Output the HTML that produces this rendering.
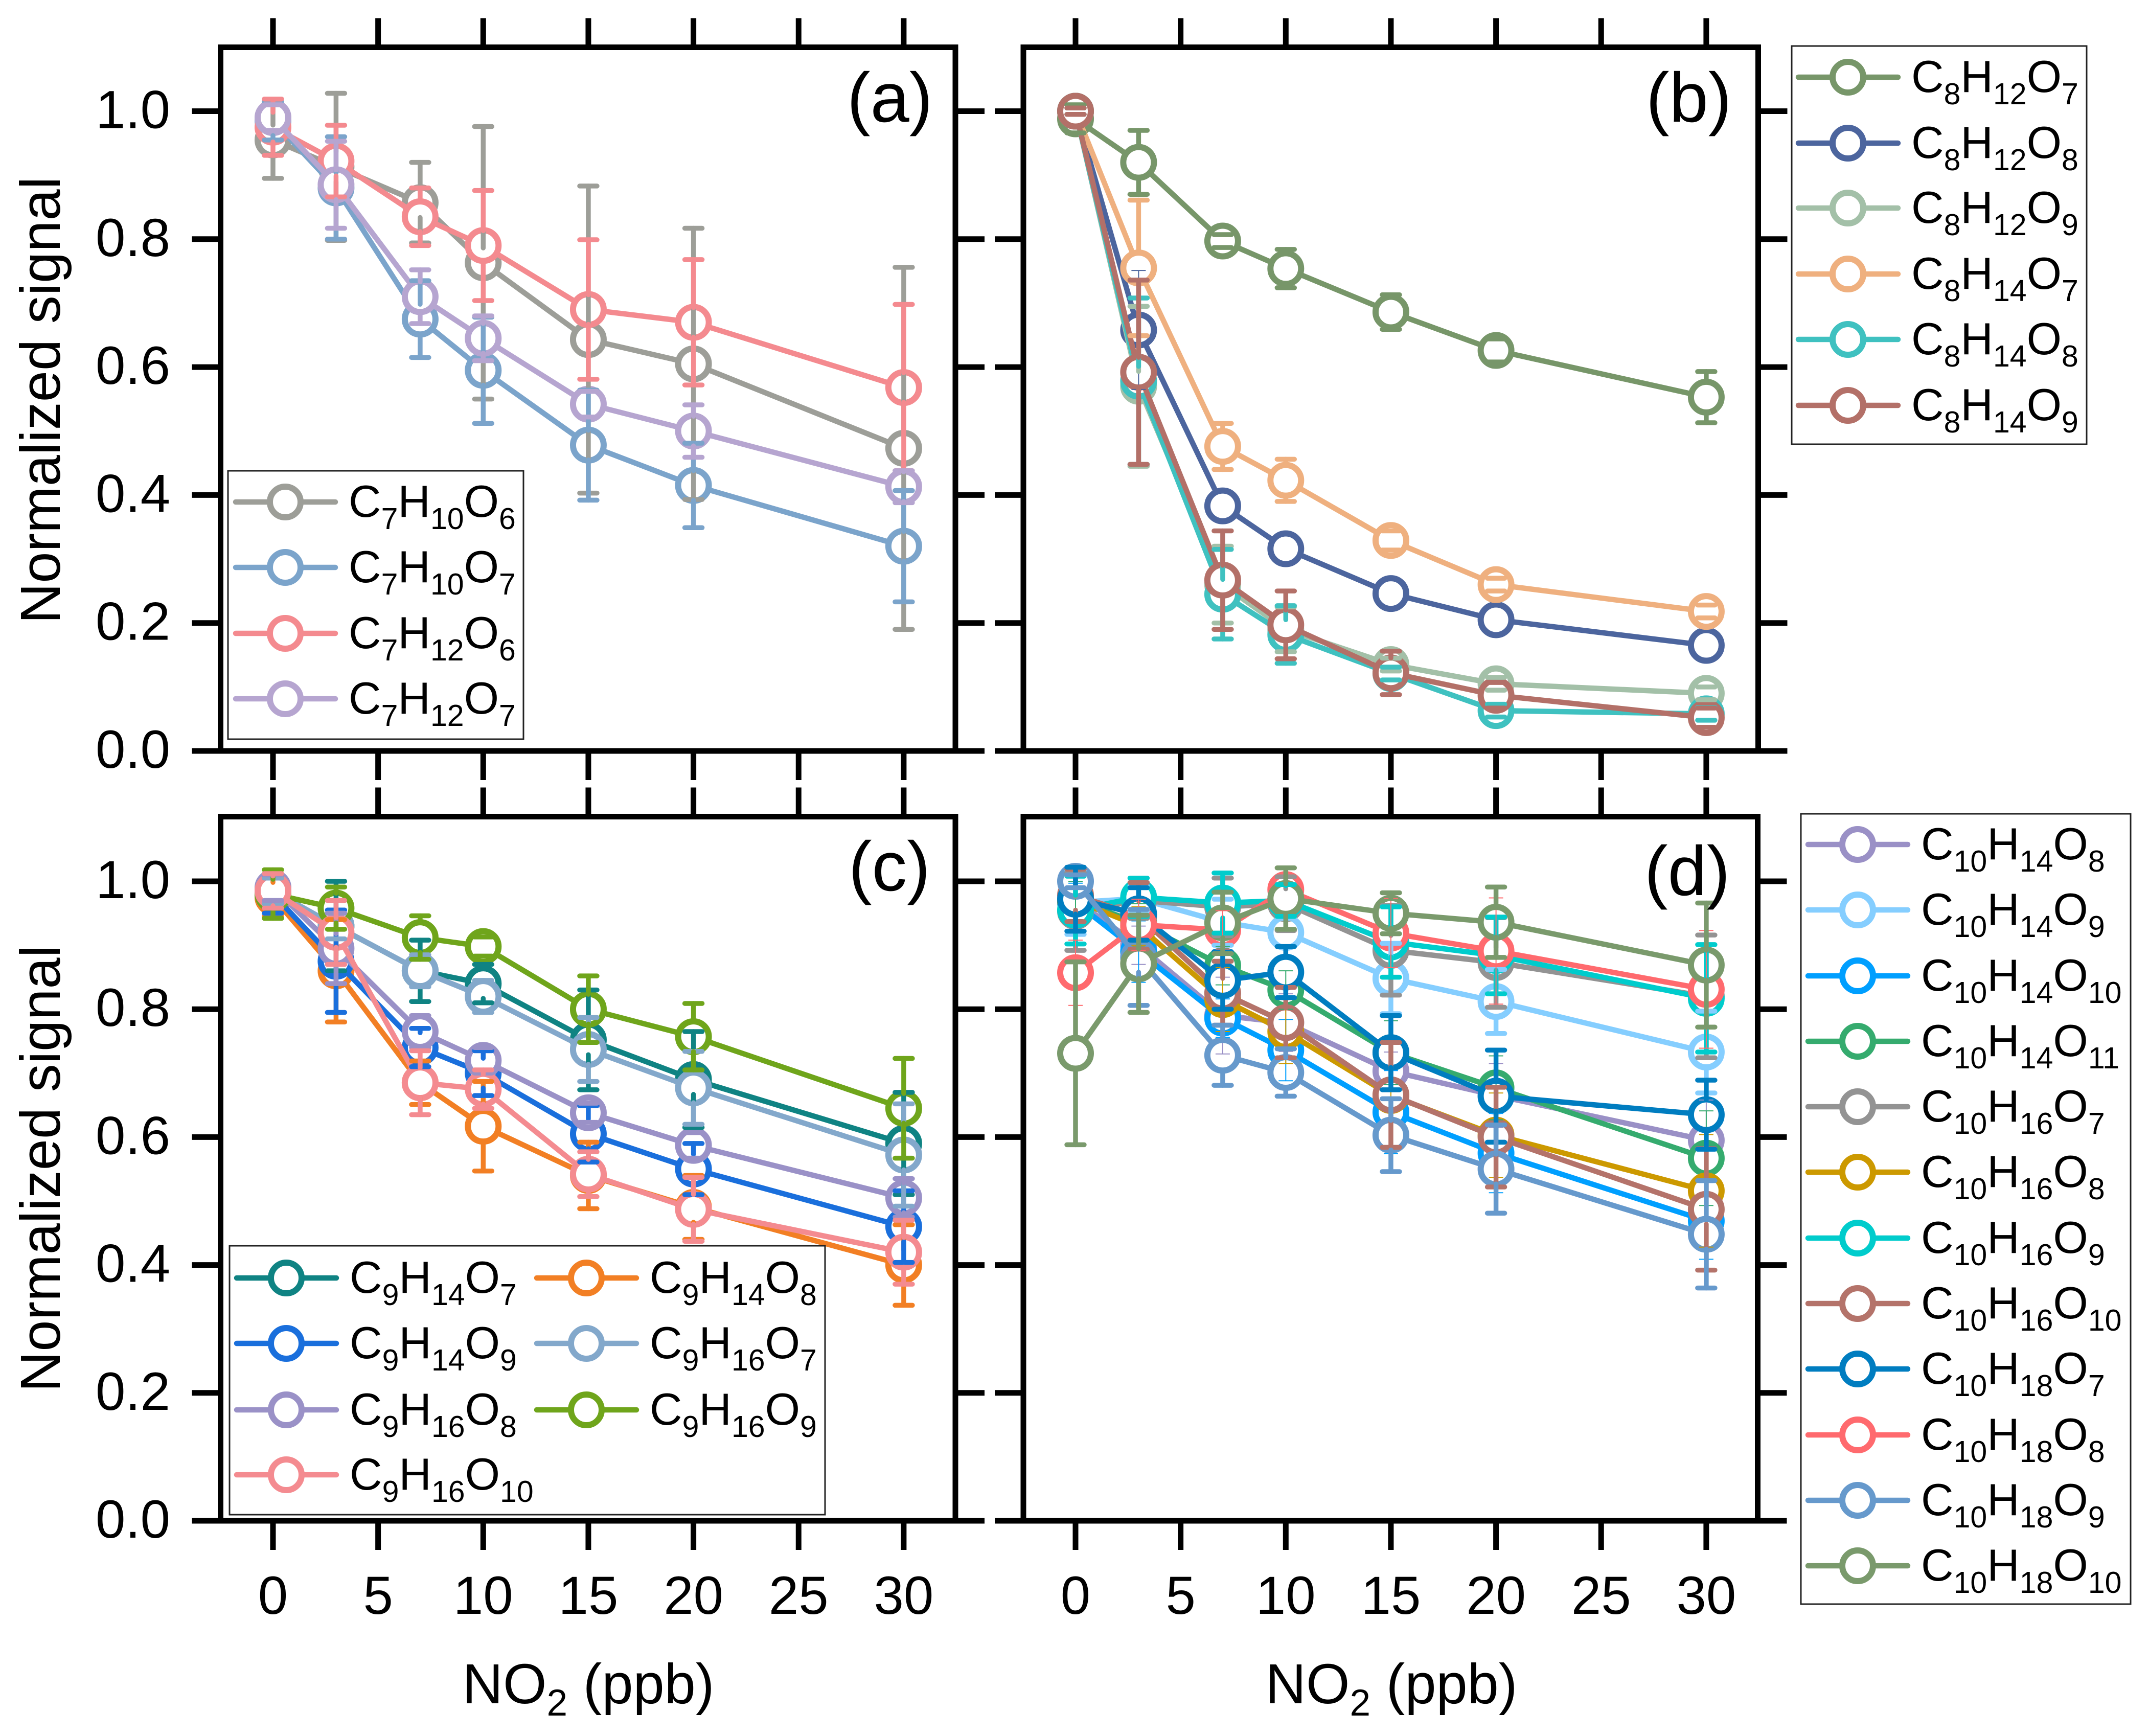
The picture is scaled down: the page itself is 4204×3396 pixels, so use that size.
<!DOCTYPE html>
<html lang="en">
<head>
<meta charset="utf-8">
<title>Normalized signal versus NO2</title>
<style>
html,body{margin:0;padding:0;background:#fff;width:4204px;height:3396px;overflow:hidden}
svg{display:block;font-family:"Liberation Sans",sans-serif}
</style>
</head>
<body>
<svg id="chart" xmlns="http://www.w3.org/2000/svg" width="4204" height="3396" viewBox="0 0 4204 3396"></svg>
<script>
// ---------- shared axis data ----------
const xCategories = [0, 3, 7, 10, 15, 20, 30];
const xTickLabels = [0, 5, 10, 15, 20, 25, 30];
const yTickLabels = ["0.0", "0.2", "0.4", "0.6", "0.8", "1.0"];

// ---------- panel (a) ----------
const aNames = ["C7H10O6", "C7H10O7", "C7H12O6", "C7H12O7"];
const aC7H10O6 = [0.955, 0.913, 0.857, 0.763, 0.643, 0.605, 0.473];
const aC7H10O6Err = [0.06, 0.115, 0.063, 0.213, 0.24, 0.212, 0.283];
const aC7H10O7 = [0.985, 0.88, 0.675, 0.595, 0.478, 0.415, 0.32];
const aC7H10O7Err = [0.03, 0.08, 0.06, 0.083, 0.086, 0.066, 0.087];
const aC7H12O6 = [0.975, 0.922, 0.835, 0.79, 0.69, 0.67, 0.568];
const aC7H12O6Err = [0.044, 0.056, 0.045, 0.086, 0.109, 0.098, 0.13];
const aC7H12O7 = [0.99, 0.885, 0.71, 0.645, 0.542, 0.5, 0.413];
const aC7H12O7Err = [0.02, 0.068, 0.042, 0.035, 0.02, 0.041, 0.025];

// ---------- panel (b) ----------
const bNames = ["C8H12O7", "C8H12O8", "C8H12O9", "C8H14O7", "C8H14O8", "C8H14O9"];
const bC8H12O7 = [0.988, 0.92, 0.797, 0.754, 0.686, 0.626, 0.553];
const bC8H12O7Err = [0.022, 0.05, 0.01, 0.03, 0.027, 0.018, 0.04];
const bC8H12O8 = [1.0, 0.658, 0.383, 0.316, 0.246, 0.205, 0.165];
const bC8H12O8Err = [0.005, 0.093, 0.01, 0.01, 0.01, 0.02, 0.01];
const bC8H12O9 = [1.0, 0.57, 0.26, 0.19, 0.135, 0.105, 0.09];
const bC8H12O9Err = [0.005, 0.125, 0.06, 0.035, 0.01, 0.01, 0.01];
const bC8H14O7 = [1.0, 0.755, 0.476, 0.423, 0.329, 0.26, 0.218];
const bC8H14O7Err = [0.005, 0.106, 0.036, 0.033, 0.015, 0.01, 0.01];
const bC8H14O8 = [1.0, 0.578, 0.245, 0.182, 0.121, 0.063, 0.058];
const bC8H14O8Err = [0.005, 0.13, 0.07, 0.045, 0.01, 0.01, 0.01];
const bC8H14O9 = [1.0, 0.592, 0.267, 0.197, 0.122, 0.087, 0.052];
const bC8H14O9Err = [0.005, 0.144, 0.077, 0.053, 0.034, 0.02, 0.015];

// ---------- panel (c) ----------
const cNames = ["C9H14O7", "C9H14O8", "C9H14O9", "C9H16O7", "C9H16O8", "C9H16O9", "C9H16O10"];
const cC9H14O7 = [0.98, 0.93, 0.86, 0.84, 0.752, 0.69, 0.59];
const cC9H14O7Err = [0.03, 0.07, 0.048, 0.03, 0.078, 0.075, 0.08];
const cC9H14O8 = [0.975, 0.86, 0.685, 0.617, 0.54, 0.49, 0.4];
const cC9H14O8Err = [0.03, 0.08, 0.034, 0.07, 0.052, 0.05, 0.063];
const cC9H14O9 = [0.98, 0.875, 0.74, 0.7, 0.605, 0.55, 0.46];
const cC9H14O9Err = [0.03, 0.08, 0.03, 0.035, 0.044, 0.04, 0.056];
const cC9H16O7 = [0.985, 0.93, 0.86, 0.82, 0.737, 0.677, 0.572];
const cC9H16O7Err = [0.02, 0.02, 0.025, 0.025, 0.05, 0.057, 0.08];
const cC9H16O8 = [0.99, 0.895, 0.765, 0.72, 0.638, 0.587, 0.505];
const cC9H16O8Err = [0.02, 0.055, 0.025, 0.02, 0.015, 0.02, 0.03];
const cC9H16O9 = [0.98, 0.958, 0.912, 0.898, 0.8, 0.757, 0.645];
const cC9H16O9Err = [0.038, 0.033, 0.034, 0.015, 0.052, 0.052, 0.078];
const cC9H16O10 = [0.985, 0.92, 0.685, 0.675, 0.542, 0.487, 0.42];
const cC9H16O10Err = [0.027, 0.05, 0.05, 0.03, 0.035, 0.05, 0.05];

// ---------- panel (d) ----------
const dNames = ["C10H14O8", "C10H14O9", "C10H14O10", "C10H14O11", "C10H16O7", "C10H16O8", "C10H16O9", "C10H16O10", "C10H18O7", "C10H18O8", "C10H18O9", "C10H18O10"];
const dC10H14O8 = [0.97, 0.9, 0.79, 0.779, 0.703, 0.665, 0.595];
const dC10H14O8Err = [0.03, 0.03, 0.06, 0.045, 0.03, 0.05, 0.063];
const dC10H14O9 = [0.967, 0.973, 0.936, 0.92, 0.848, 0.812, 0.733];
const dC10H14O9Err = [0.05, 0.02, 0.036, 0.022, 0.055, 0.05, 0.064];
const dC10H14O10 = [0.967, 0.89, 0.786, 0.736, 0.639, 0.575, 0.469];
const dC10H14O10Err = [0.03, 0.048, 0.03, 0.048, 0.065, 0.062, 0.06];
const dC10H14O11 = [0.97, 0.935, 0.868, 0.83, 0.732, 0.677, 0.567];
const dC10H14O11Err = [0.03, 0.03, 0.03, 0.03, 0.05, 0.05, 0.074];
const dC10H16O7 = [0.953, 0.97, 0.96, 0.965, 0.892, 0.873, 0.82];
const dC10H16O7Err = [0.061, 0.028, 0.045, 0.042, 0.07, 0.07, 0.096];
const dC10H16O8 = [0.97, 0.93, 0.815, 0.765, 0.665, 0.603, 0.516];
const dC10H16O8Err = [0.02, 0.03, 0.05, 0.05, 0.08, 0.066, 0.088];
const dC10H16O9 = [0.955, 0.975, 0.966, 0.97, 0.905, 0.884, 0.817];
const dC10H16O9Err = [0.053, 0.03, 0.047, 0.025, 0.055, 0.06, 0.084];
const dC10H16O10 = [0.978, 0.946, 0.825, 0.779, 0.666, 0.6, 0.487];
const dC10H16O10Err = [0.041, 0.052, 0.05, 0.055, 0.082, 0.078, 0.095];
const dC10H18O7 = [0.972, 0.949, 0.845, 0.858, 0.732, 0.664, 0.635];
const dC10H18O7Err = [0.05, 0.041, 0.045, 0.04, 0.058, 0.072, 0.054];
const dC10H18O8 = [0.857, 0.932, 0.924, 0.987, 0.919, 0.891, 0.831];
const dC10H18O8Err = [0.051, 0.04, 0.03, 0.02, 0.054, 0.083, 0.092];
const dC10H18O9 = [1.0, 0.881, 0.728, 0.701, 0.603, 0.55, 0.448];
const dC10H18O9Err = [0.01, 0.075, 0.047, 0.037, 0.057, 0.069, 0.084];
const dC10H18O10 = [0.731, 0.871, 0.935, 0.973, 0.95, 0.936, 0.869];
const dC10H18O10Err = [0.143, 0.076, 0.048, 0.048, 0.032, 0.055, 0.097];

// ---------- panel configuration (layout and style only) ----------
const panels = [
  { id: "a", tag: "(a)", left: 431.5, right: 1869, top: 92.5, bottom: 1469, x0: 534, y1: 217.5,
    tagX: 1657, tagY: 238,
    names: aNames,
    values: [aC7H10O6, aC7H10O7, aC7H12O6, aC7H12O7],
    errors: [aC7H10O6Err, aC7H10O7Err, aC7H12O6Err, aC7H12O7Err],
    colors: ["#9d9e98", "#7ba4cb", "#f48a8f", "#b6a5d0"],
    thin: [],
    legend: { x: 446, y: 921, w: 578, h: 525, rows: [982, 1110, 1239, 1367], cols: [456], perCol: 4 } },
  { id: "b", tag: "(b)", left: 2002, right: 3439.5, top: 92.5, bottom: 1469, x0: 2104, y1: 217.5,
    tagX: 3220, tagY: 238,
    names: bNames,
    values: [bC8H12O7, bC8H12O8, bC8H12O9, bC8H14O7, bC8H14O8, bC8H14O9],
    errors: [bC8H12O7Err, bC8H12O8Err, bC8H12O9Err, bC8H14O7Err, bC8H14O8Err, bC8H14O9Err],
    colors: ["#779669", "#4c659e", "#a3c0a8", "#efb07f", "#3fc1c0", "#b37068"],
    thin: [1],
    legend: { x: 3505, y: 90, w: 577, h: 779, rows: [151, 280, 407, 536, 664, 793], cols: [3513], perCol: 6 } },
  { id: "c", tag: "(c)", left: 431.5, right: 1869, top: 1597.5, bottom: 2975, x0: 534, y1: 1724,
    tagX: 1660, tagY: 1742,
    names: cNames,
    values: [cC9H14O7, cC9H14O8, cC9H14O9, cC9H16O7, cC9H16O8, cC9H16O9, cC9H16O10],
    errors: [cC9H14O7Err, cC9H14O8Err, cC9H14O9Err, cC9H16O7Err, cC9H16O8Err, cC9H16O9Err, cC9H16O10Err],
    colors: ["#0f8383", "#f27f24", "#1a6fdc", "#83a8cb", "#9a91c7", "#6fa51b", "#f48b90"],
    thin: [],
    legend: { x: 449, y: 2437, w: 1165, h: 526, rows: [2500, 2628, 2758, 2885], cols: [458, 1045],
      order: [[0, 0], [1, 0], [0, 1], [1, 1], [0, 2], [1, 2], [0, 3]] } },
  { id: "d", tag: "(d)", left: 2002, right: 3438.5, top: 1597.5, bottom: 2975, x0: 2104, y1: 1724,
    tagX: 3217, tagY: 1751,
    names: dNames,
    values: [dC10H14O8, dC10H14O9, dC10H14O10, dC10H14O11, dC10H16O7, dC10H16O8, dC10H16O9, dC10H16O10, dC10H18O7, dC10H18O8, dC10H18O9, dC10H18O10],
    errors: [dC10H14O8Err, dC10H14O9Err, dC10H14O10Err, dC10H14O11Err, dC10H16O7Err, dC10H16O8Err, dC10H16O9Err, dC10H16O10Err, dC10H18O7Err, dC10H18O8Err, dC10H18O9Err, dC10H18O10Err],
    colors: ["#9a90c6", "#85ceff", "#009fff", "#35ab6e", "#939393", "#cc9900", "#00cccc", "#b4736a", "#007dc0", "#ff6a6e", "#6699cc", "#7a9a6c"],
    thin: [0, 2, 3, 5, 9],
    legend: { x: 3523, y: 1592, w: 645, h: 1546, rows: [1652, 1780, 1909, 2037, 2165, 2293, 2422, 2550, 2678, 2807, 2935, 3063], cols: [3532], perCol: 12 } }
];

// ---------- drawing helpers ----------
const svg = document.getElementById("chart");
const NS = "http://www.w3.org/2000/svg";
const PX_PER_X = 41.13;

function make(tag, attrs, parent) {
  const node = document.createElementNS(NS, tag);
  for (const key in attrs) node.setAttribute(key, attrs[key]);
  parent.appendChild(node);
  return node;
}

function addFormula(textNode, formula) {
  const parts = formula.match(/[A-Z]|[0-9]+/g);
  let pendingDy = 0;
  parts.forEach(function (part) {
    const isSub = /[0-9]/.test(part);
    const span = make("tspan", {}, textNode);
    span.textContent = part;
    span.setAttribute("font-size", isSub ? 59 : 88);
    const dy = isSub ? 24 - pendingDy : -pendingDy;
    if (dy !== 0) span.setAttribute("dy", dy);
    pendingDy = isSub ? 24 : 0;
  });
}

function drawAxes(p, group, xOf, yOf) {
  const frame = make("rect", { x: p.left, y: p.top, width: p.right - p.left, height: p.bottom - p.top, fill: "none", stroke: "#000", "stroke-width": 11, "stroke-linejoin": "miter" }, group);
  
  

  xTickLabels.forEach(function (v) {
    const x = xOf(v);
    const topTick = make("line", { x1: x, x2: x, y1: p.top - 57, y2: p.top, stroke: "#000", "stroke-width": 11 }, group);
    
    
    const bottomTick = make("line", { x1: x, x2: x, y1: p.bottom, y2: p.bottom + 57, stroke: "#000", "stroke-width": 11 }, group);
    
    
    if (p.id === "c" || p.id === "d") {
      const lab = make("text", { x: x, y: 3157, "text-anchor": "middle", "font-size": 105, fill: "#000" }, group);
      lab.textContent = v;
      
      
    }
  });

  yTickLabels.forEach(function (label) {
    const y = yOf(parseFloat(label));
    const leftTick = make("line", { x1: p.left - 56, x2: p.left, y1: y, y2: y, stroke: "#000", "stroke-width": 11 }, group);
    
    
    const rightTick = make("line", { x1: p.right, x2: p.right + 57, y1: y, y2: y, stroke: "#000", "stroke-width": 11 }, group);
    
    
    if (p.id === "a" || p.id === "c") {
      const lab = make("text", { x: 333, y: y + 33, "text-anchor": "end", "font-size": 105, fill: "#000" }, group);
      lab.textContent = label;
      
      
    }
  });

  if (p.id === "a" || p.id === "c") {
    const cy = p.id === "a" ? 783 : 2286;
    const yTitle = make("text", { transform: "translate(117 " + cy + ") rotate(-90)", "text-anchor": "middle", "font-size": 110, fill: "#000" }, group);
    yTitle.textContent = "Normalized signal";
    
    
  }

  if (p.id === "c" || p.id === "d") {
    const xTitle = make("text", { x: p.id === "c" ? 1151 : 2722, y: 3332, "text-anchor": "middle", "font-size": 110, fill: "#000" }, group);
    
    
    const t1 = make("tspan", {}, xTitle);
    t1.textContent = "NO";
    const t2 = make("tspan", { "font-size": 73, dy: 24 }, xTitle);
    t2.textContent = "2";
    const t3 = make("tspan", { dy: -24 }, xTitle);
    t3.textContent = " (ppb)";
  }

  const tag = make("text", { x: p.tagX, y: p.tagY, "font-size": 137, fill: "#000" }, group);
  tag.textContent = p.tag;
  
  
}

function drawSeries(p, group, xOf, yOf) {
  p.values.forEach(function (vals, s) {
    const color = p.colors[s];
    const g = make("g", {}, group);
    
    
    const pts = vals.map(function (v, i) { return xOf(xCategories[i]) + "," + yOf(v); }).join(" ");
    const line = make("polyline", { points: pts, fill: "none", stroke: color, "stroke-width": 10.5, "stroke-linejoin": "round" }, g);
    
    
    vals.forEach(function (v, i) {
      const c = make("circle", { cx: xOf(xCategories[i]), cy: yOf(v), r: 30, fill: "#fff", stroke: color, "stroke-width": 12 }, g);
      
      
    });
  });
}

function drawErrors(p, group, xOf, yOf) {
  const GAP = 29;
  p.values.forEach(function (vals, s) {
    const color = p.colors[s];
    const thin = p.thin.indexOf(s) >= 0;
    const width = thin ? 2 : 9.5;
    const halfCap = thin ? 14 : 17;
    const g = make("g", { stroke: color, "stroke-width": width, "stroke-linecap": thin ? "butt" : "round" }, group);
    
    
    vals.forEach(function (v, i) {
      const x = xOf(xCategories[i]);
      const yc = yOf(v);
      const err = p.errors[s][i];
      [yOf(v + err), yOf(v - err)].forEach(function (yEnd) {
        const dir = yEnd < yc ? -1 : 1;
        const dist = Math.abs(yEnd - yc);
        if (thin && dist < 30) return;
        const start = thin ? yc : yc + dir * GAP;
        if (thin || dist > GAP) {
          const stem = make("line", { x1: x, x2: x, y1: start, y2: yEnd }, g);
          
          
        }
        const cap = make("line", { x1: x - halfCap, x2: x + halfCap, y1: yEnd, y2: yEnd }, g);
        
        
      });
    });
  });
}

function drawLegend(p, group) {
  const L = p.legend;
  const g = make("g", {}, group);
  
  
  const box = make("rect", { x: L.x, y: L.y, width: L.w, height: L.h, fill: "#fff", stroke: "#222", "stroke-width": 3 }, g);
  
  
  p.names.forEach(function (name, s) {
    const colIdx = L.order ? L.order[s][0] : 0;
    const rowIdx = L.order ? L.order[s][1] : s;
    const lx = L.cols[colIdx];
    const ly = L.rows[rowIdx];
    const entry = make("g", {}, g);
    
    
    make("line", { x1: lx + 5, x2: lx + 200, y1: ly, y2: ly, stroke: p.colors[s], "stroke-width": 10.5, "stroke-linecap": "round" }, entry);
    make("circle", { cx: lx + 102, cy: ly, r: 30, fill: "#fff", stroke: p.colors[s], "stroke-width": 12 }, entry);
    const t = make("text", { x: lx + 226, y: ly + 29, fill: "#000" }, entry);
    
    
    addFormula(t, name);
  });
}

panels.forEach(function (p) {
  const group = make("g", {}, svg);
  
  
  const unitY = (p.bottom - p.y1);
  const xOf = function (v) { return p.x0 + v * PX_PER_X; };
  const yOf = function (v) { return p.bottom - v * unitY; };
  drawSeries(p, group, xOf, yOf);
  drawErrors(p, group, xOf, yOf);
  drawLegend(p, group);
  drawAxes(p, group, xOf, yOf);
});
</script>
</body>
</html>
